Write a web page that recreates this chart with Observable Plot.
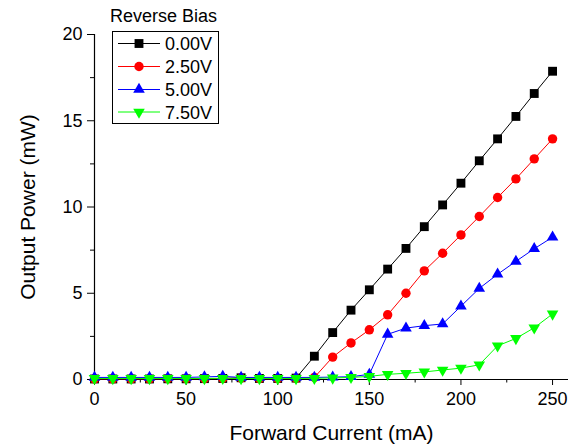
<!DOCTYPE html>
<html>
<head>
<meta charset="utf-8">
<script src="https://cdn.jsdelivr.net/npm/d3@7"></script>
<script src="https://cdn.jsdelivr.net/npm/@observablehq/plot@0.6"></script>
<style>
  body { margin: 0; background: #ffffff; }
  #chart { width: 568px; height: 448px; }
</style>
</head>
<body>
<div id="chart"></div>
<script>
// Forward current sweep (mA)
const current = [0, 10, 20, 30, 40, 50, 60, 70, 80, 90, 100, 110, 120, 130, 140, 150, 160, 170, 180, 190, 200, 210, 220, 230, 240, 250];

// Reverse bias settings
const biasLabels = ["0.00V", "2.50V", "5.00V", "7.50V"];

// Output power (mW) for each reverse bias
const power000 = [0.03, 0.03, 0.03, 0.03, 0.04, 0.04, 0.05, 0.06, 0.10, 0.06, 0.06, 0.08, 1.35, 2.72, 4.02, 5.20, 6.40, 7.60, 8.86, 10.12, 11.38, 12.68, 13.95, 15.25, 16.58, 17.87];
const power250 = [0.04, 0.04, 0.04, 0.04, 0.05, 0.05, 0.05, 0.06, 0.07, 0.05, 0.05, 0.06, 0.12, 1.30, 2.12, 2.88, 3.75, 5.00, 6.30, 7.32, 8.38, 9.45, 10.55, 11.63, 12.79, 13.95];
const power500 = [0.12, 0.12, 0.12, 0.12, 0.12, 0.12, 0.15, 0.18, 0.12, 0.12, 0.12, 0.12, 0.12, 0.14, 0.16, 0.30, 2.62, 2.98, 3.12, 3.22, 4.25, 5.28, 6.10, 6.85, 7.58, 8.25];
const power750 = [0.06, 0.06, 0.06, 0.06, 0.06, 0.06, 0.06, 0.07, 0.06, 0.06, 0.06, 0.06, 0.07, 0.09, 0.12, 0.18, 0.30, 0.36, 0.44, 0.55, 0.66, 0.85, 1.95, 2.38, 3.00, 3.80];

// Axis ticks
const xTicks = [0, 50, 100, 150, 200, 250];
const xMinorTicks = [25, 75, 125, 175, 225];
const yTicks = [0, 5, 10, 15, 20];
const yMinorTicks = [2.5, 7.5, 12.5, 17.5];

const seriesColors = ["#000000", "#ff0000", "#0000ff", "#00ff00"];

// Downward-pointing triangle, centred on its centroid like d3.symbolTriangle
const triangleDown = {
  draw(context, size) {
    const y = -Math.sqrt(size / (Math.sqrt(3) * 3));
    context.moveTo(0, -y * 2);
    context.lineTo(-Math.sqrt(3) * y, y);
    context.lineTo(Math.sqrt(3) * y, y);
    context.closePath();
  }
};
const seriesSymbols = ["square", "circle", "triangle", triangleDown];
const seriesRadius = [5, 4.7, 4.3, 4.3];

const allPower = [power000, power250, power500, power750];
const rows = biasLabels.map((bias, i) =>
  current.map((c, j) => ({ current: c, power: allPower[i][j], bias }))
);

const fontFamily = '"Liberation Sans", Arial, sans-serif';

const seriesMarks = rows.flatMap((data, i) => [
  Plot.line(data, { x: "current", y: "power", stroke: seriesColors[i], strokeWidth: 1 }),
  Plot.dot(data, { x: "current", y: "power", symbol: seriesSymbols[i], r: seriesRadius[i], fill: seriesColors[i], stroke: "none" })
]);

const chart = Plot.plot({
  width: 568,
  height: 448,
  marginLeft: 94,
  marginRight: 0,
  marginTop: 34,
  marginBottom: 69,
  style: { fontFamily, fontSize: "18px", background: "#ffffff", color: "#000000" },
  x: { domain: [0, 258.7] },
  y: { domain: [0, 20] },
  marks: [
    Plot.axisX({ ticks: xTicks, tickSize: 6, tickPadding: 7, fontSize: 18, label: null, tickFormat: d3.format("d") }),
    Plot.axisX({ ticks: xMinorTicks, tickSize: 3.5, label: null, tickFormat: () => "" }),
    Plot.axisY({ ticks: yTicks, tickSize: 7, tickPadding: 5, fontSize: 18, label: null, tickFormat: d3.format("d") }),
    Plot.axisY({ ticks: yMinorTicks, tickSize: 4, label: null, tickFormat: () => "" }),
    Plot.ruleY([0], { stroke: "#000000", strokeWidth: 1.2 }),
    Plot.ruleX([0], { stroke: "#000000", strokeWidth: 1.2 }),
    ...seriesMarks,
    Plot.text(["Forward Current (mA)"], { frameAnchor: "bottom", dy: 54, fontSize: 21, lineAnchor: "middle", textAnchor: "middle", fill: "#000000" }),
    Plot.text(["Output Power (mW)"], { frameAnchor: "left", dx: -66, rotate: -90, fontSize: 21, lineAnchor: "middle", textAnchor: "middle", fill: "#000000" })
  ]
});

// Legend box in the upper-left corner of the plot area
const svg = d3.select(chart);
const legend = svg.append("g")
  .attr("font-family", fontFamily)
  .attr("font-size", 18)
  .attr("text-anchor", "start");
legend.append("text").attr("x", 110).attr("y", 21.5).attr("fill", "#000").text("Reverse Bias");
legend.append("rect")
  .attr("x", 112.5).attr("y", 31.5).attr("width", 106).attr("height", 92)
  .attr("fill", "#ffffff").attr("stroke", "#000000").attr("stroke-width", 1);
const entryY = [43.5, 66.5, 89.5, 112];
biasLabels.forEach((label, i) => {
  const y = entryY[i];
  legend.append("line").attr("x1", 118).attr("x2", 160).attr("y1", y).attr("y2", y)
    .attr("stroke", seriesColors[i]).attr("stroke-width", 1);
  const sym = typeof seriesSymbols[i] === "string"
    ? { square: d3.symbolSquare, circle: d3.symbolCircle, triangle: d3.symbolTriangle }[seriesSymbols[i]]
    : seriesSymbols[i];
  legend.append("path")
    .attr("transform", `translate(139,${y})`)
    .attr("d", d3.symbol(sym, Math.PI * seriesRadius[i] * seriesRadius[i])())
    .attr("fill", seriesColors[i]);
  legend.append("text").attr("x", 165).attr("y", y + 6.5).attr("fill", "#000").attr("text-anchor", "start").text(label);
});

document.getElementById("chart").appendChild(chart);
</script>
</body>
</html>
